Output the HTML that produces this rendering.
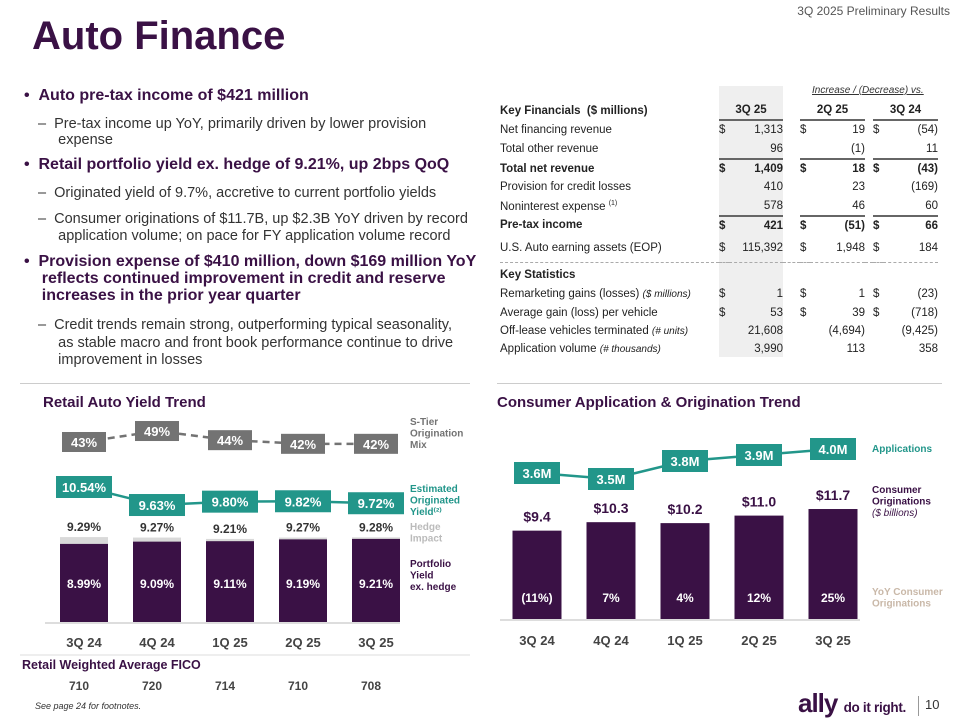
<!DOCTYPE html>
<html><head><meta charset="utf-8">
<style>
body{margin:0;width:960px;height:720px;background:#fff;position:relative;overflow:hidden;font-family:"Liberation Sans",sans-serif;color:#222}
.a{position:absolute;white-space:nowrap}
.b{font-weight:bold;color:#3a1145;font-size:16px}
.s{font-size:14.5px;color:#333}
.t td{font-size:11.5px;padding:0;height:18.3px;color:#222}
</style></head><body>
<div class="a" style="right:10px;top:4px;font-size:12px;color:#555">3Q 2025 Preliminary Results</div>
<div class="a" style="left:32px;top:14px;font-size:40px;font-weight:bold;color:#3a1145">Auto Finance</div>

<div>
<div class="a b" style="left:24px;top:87px">•&nbsp;&nbsp;Auto pre-tax income of $421 million</div>
<div class="a s" style="left:38px;top:116px">–&nbsp;&nbsp;Pre-tax income up YoY, primarily driven by lower provision<br>&nbsp;&nbsp;&nbsp;&nbsp;&nbsp;expense</div>
<div class="a b" style="left:24px;top:156px">•&nbsp;&nbsp;Retail portfolio yield ex. hedge of 9.21%, up 2bps QoQ</div>
<div class="a s" style="left:38px;top:185px">–&nbsp;&nbsp;Originated yield of 9.7%, accretive to current portfolio yields</div>
<div class="a s" style="left:38px;top:211px;line-height:17px">–&nbsp;&nbsp;Consumer originations of $11.7B, up $2.3B YoY driven by record<br>&nbsp;&nbsp;&nbsp;&nbsp;&nbsp;application volume; on pace for FY application volume record</div>
<div class="a b" style="left:24px;top:253px;line-height:17px">•&nbsp;&nbsp;Provision expense of $410 million, down $169 million YoY<br>&nbsp;&nbsp;&nbsp;&nbsp;reflects continued improvement in credit and reserve<br>&nbsp;&nbsp;&nbsp;&nbsp;increases in the prior year quarter</div>
<div class="a s" style="left:38px;top:317px;line-height:17.5px">–&nbsp;&nbsp;Credit trends remain strong, outperforming typical seasonality,<br>&nbsp;&nbsp;&nbsp;&nbsp;&nbsp;as stable macro and front book performance continue to drive<br>&nbsp;&nbsp;&nbsp;&nbsp;&nbsp;improvement in losses</div>
</div>

<div class="a" style="left:719px;top:86px;width:64px;height:271px;background:#efefef"></div>
<div class="a" style="left:812px;top:85px;font-size:10px;font-style:italic;text-decoration:underline;color:#333">Increase / (Decrease) vs.</div>
<table class="a t" style="left:500px;top:101px;border-collapse:collapse">
<colgroup><col style="width:219px"><col style="width:10px"><col style="width:54px"><col style="width:17px"><col style="width:10px"><col style="width:55px"><col style="width:8px"><col style="width:10px"><col style="width:55px"></colgroup>
<tr style="font-weight:bold"><td><b>Key Financials &nbsp;($ millions)</b></td><td colspan="2" style="text-align:center"><b>3Q 25</b></td><td></td><td colspan="2" style="text-align:center"><b>2Q 25</b></td><td></td><td colspan="2" style="text-align:center"><b>3Q 24</b></td></tr>
<tr><td>Net financing revenue</td><td style="border-top:2px solid #666">$</td><td style="text-align:right;border-top:2px solid #666">1,313</td><td></td><td style="border-top:2px solid #666">$</td><td style="text-align:right;border-top:2px solid #666">19</td><td></td><td style="border-top:2px solid #666">$</td><td style="text-align:right;border-top:2px solid #666">(54)</td></tr>
<tr><td>Total other revenue</td><td></td><td style="text-align:right">96</td><td></td><td></td><td style="text-align:right">(1)</td><td></td><td></td><td style="text-align:right">11</td></tr>
<tr style="font-weight:bold"><td>Total net revenue</td><td style="border-top:2px solid #666">$</td><td style="text-align:right;border-top:2px solid #666">1,409</td><td></td><td style="border-top:2px solid #666">$</td><td style="text-align:right;border-top:2px solid #666">18</td><td></td><td style="border-top:2px solid #666">$</td><td style="text-align:right;border-top:2px solid #666">(43)</td></tr>
<tr><td>Provision for credit losses</td><td></td><td style="text-align:right">410</td><td></td><td></td><td style="text-align:right">23</td><td></td><td></td><td style="text-align:right">(169)</td></tr>
<tr><td>Noninterest expense <sup style="font-size:7px">(1)</sup></td><td></td><td style="text-align:right">578</td><td></td><td></td><td style="text-align:right">46</td><td></td><td></td><td style="text-align:right">60</td></tr>
<tr style="font-weight:bold"><td>Pre-tax income</td><td style="border-top:2px solid #666">$</td><td style="text-align:right;border-top:2px solid #666">421</td><td></td><td style="border-top:2px solid #666">$</td><td style="text-align:right;border-top:2px solid #666">(51)</td><td></td><td style="border-top:2px solid #666">$</td><td style="text-align:right;border-top:2px solid #666">66</td></tr>
<tr><td style="height:26px">U.S. Auto earning assets (EOP)</td><td>$</td><td style="text-align:right">115,392</td><td></td><td>$</td><td style="text-align:right">1,948</td><td></td><td>$</td><td style="text-align:right">184</td></tr>
<tr><td colspan="9" style="height:1px;border-bottom:1px dashed #aaa"></td></tr>
<tr><td colspan="9" style="font-weight:bold;height:20px;padding-top:2px">Key Statistics</td></tr>
<tr><td>Remarketing gains (losses) <i style="font-size:10px">($ millions)</i></td><td>$</td><td style="text-align:right">1</td><td></td><td>$</td><td style="text-align:right">1</td><td></td><td>$</td><td style="text-align:right">(23)</td></tr>
<tr><td>Average gain (loss) per vehicle</td><td>$</td><td style="text-align:right">53</td><td></td><td>$</td><td style="text-align:right">39</td><td></td><td>$</td><td style="text-align:right">(718)</td></tr>
<tr><td>Off-lease vehicles terminated <i style="font-size:10px">(# units)</i></td><td></td><td style="text-align:right">21,608</td><td></td><td></td><td style="text-align:right">(4,694)</td><td></td><td></td><td style="text-align:right">(9,425)</td></tr>
<tr><td>Application volume <i style="font-size:10px">(# thousands)</i></td><td></td><td style="text-align:right">3,990</td><td></td><td></td><td style="text-align:right">113</td><td></td><td></td><td style="text-align:right">358</td></tr>
</table>

<div class="a" style="left:20px;top:383px;width:450px;height:1px;background:#ccc"></div>
<div class="a" style="left:497px;top:383px;width:445px;height:1px;background:#ccc"></div>

<svg class="a" id="c1" style="left:0;top:385px" width="480" height="320"></svg>
<svg class="a" id="c2" style="left:480px;top:385px" width="480" height="280"></svg>

<div class="a" style="left:35px;top:701px;font-size:9px;font-style:italic;color:#333">See page 24 for footnotes.</div>
<div class="a" style="left:798px;top:688px;font-size:26px;font-weight:bold;color:#3a1145;letter-spacing:-1px">ally <span style="font-size:13.5px;letter-spacing:-0.3px">do it right.</span></div>
<div class="a" style="left:918px;top:696px;width:1px;height:20px;background:#999"></div>
<div class="a" style="left:925px;top:697px;font-size:13px;color:#333">10</div>

<script>
const cats=["3Q 24","4Q 24","1Q 25","2Q 25","3Q 25"];
const portYield=[8.99,9.09,9.11,9.19,9.21];
const totalYield=[9.29,9.27,9.21,9.27,9.28];
const origYield=[10.54,9.63,9.80,9.82,9.72];
const sTier=[43,49,44,42,42];
const fico=[710,720,714,710,708];
const originations=[9.4,10.3,10.2,11.0,11.7];
const apps=[3.6,3.5,3.8,3.9,4.0];
const yoy=["(11%)","7%","4%","12%","25%"];

const NS="http://www.w3.org/2000/svg";
function mk(svg,tag,attrs,text){const e=document.createElementNS(NS,tag);for(const k in attrs)e.setAttribute(k,attrs[k]);if(text!==undefined)e.textContent=text;svg.appendChild(e);return e;}
const PURPLE="#3a1145",TEAL="#22968a",GRAY="#737373";

const s1=document.getElementById('c1');
const x1=i=>84+i*73, base1=622-385;
const yB=v=>base1-(v-5.55)*22.7;
const yO=v=>487-385+(10.54-v)*19.8;
const yS=v=>442-385-(v-43)*1.83;
let e=mk(s1,'text',{x:43,y:22,'font-size':15,'font-weight':'bold',fill:PURPLE},'Retail Auto Yield Trend');

e=mk(s1,'line',{x1:45,x2:400,y1:base1+1,y2:base1+1,stroke:'#ddd','stroke-width':2});

cats.forEach((c,i)=>{
 e=mk(s1,'rect',{x:x1(i)-24,y:yB(totalYield[i]),width:48,height:base1-yB(totalYield[i]),fill:'#d9d9d9'});
 
 e=mk(s1,'rect',{x:x1(i)-24,y:yB(portYield[i]),width:48,height:base1-yB(portYield[i]),fill:PURPLE});
 
 e=mk(s1,'text',{x:x1(i),y:base1-34,'text-anchor':'middle','font-size':12,'font-weight':'bold',fill:'#fff'},portYield[i].toFixed(2)+'%');
 
 e=mk(s1,'text',{x:x1(i),y:yB(totalYield[i])-6,'text-anchor':'middle','font-size':12,'font-weight':'bold',fill:'#333'},totalYield[i].toFixed(2)+'%');
 
 e=mk(s1,'text',{x:x1(i),y:262,'text-anchor':'middle','font-size':13,'font-weight':'bold',fill:'#444'},c);
 
 e=mk(s1,'text',{x:x1(i)-5,y:305,'text-anchor':'middle','font-size':12,'font-weight':'bold',fill:'#444'},fico[i]);
 
});
e=mk(s1,'polyline',{points:sTier.map((v,i)=>x1(i)+','+yS(v)).join(' '),fill:'none',stroke:GRAY,'stroke-width':2.5,'stroke-dasharray':'7,5'});

e=mk(s1,'polyline',{points:origYield.map((v,i)=>x1(i)+','+yO(v)).join(' '),fill:'none',stroke:TEAL,'stroke-width':2.5});

cats.forEach((c,i)=>{
 e=mk(s1,'rect',{x:x1(i)-22,y:yS(sTier[i])-10,width:44,height:20,fill:GRAY});
 
 e=mk(s1,'text',{x:x1(i),y:yS(sTier[i])+5,'text-anchor':'middle','font-size':13,'font-weight':'bold',fill:'#fff'},sTier[i]+'%');
 
 e=mk(s1,'rect',{x:x1(i)-28,y:yO(origYield[i])-11,width:56,height:22,fill:TEAL});
 
 e=mk(s1,'text',{x:x1(i),y:yO(origYield[i])+5,'text-anchor':'middle','font-size':13,'font-weight':'bold',fill:'#fff'},origYield[i].toFixed(2)+'%');
 
});
[[['S-Tier','Origination','Mix'],40,GRAY,'legend-s-tier'],[['Estimated','Originated','Yield⁽²⁾'],107,TEAL,'legend-originated-yield'],[['Hedge','Impact'],145,'#bbb','legend-hedge'],[['Portfolio','Yield','ex. hedge'],182,PURPLE,'legend-portfolio-yield']].forEach(([ls,y,col,n])=>{
 ls.forEach((l,j)=>{e=mk(s1,'text',{x:410,y:y+j*11.5,'font-size':10,'font-weight':'bold',fill:col},l);
 });
});
e=mk(s1,'line',{x1:20,x2:470,y1:270,y2:270,stroke:'#ddd'});
e=mk(s1,'text',{x:22,y:284,'font-size':12.5,'font-weight':'bold',fill:PURPLE},'Retail Weighted Average FICO');


const s2=document.getElementById('c2');
const x2=i=>537-480+i*74, base2=619-385;
const yV=v=>base2-v*9.4;
const yA=v=>479-385-(v-3.5)*60;
e=mk(s2,'text',{x:17,y:22,'font-size':15,'font-weight':'bold',fill:PURPLE},'Consumer Application & Origination Trend');

e=mk(s2,'line',{x1:20,x2:380,y1:base2+1,y2:base2+1,stroke:'#ddd','stroke-width':2});
cats.forEach((c,i)=>{
 e=mk(s2,'rect',{x:x2(i)-24.5,y:yV(originations[i]),width:49,height:base2-yV(originations[i]),fill:PURPLE});
 
 e=mk(s2,'text',{x:x2(i),y:yV(originations[i])-9,'text-anchor':'middle','font-size':14,'font-weight':'bold',fill:PURPLE},'$'+originations[i].toFixed(1));
 
 e=mk(s2,'text',{x:x2(i),y:base2-17,'text-anchor':'middle','font-size':12,'font-weight':'bold',fill:'#fff'},yoy[i]);
 
 e=mk(s2,'text',{x:x2(i),y:260,'text-anchor':'middle','font-size':13,'font-weight':'bold',fill:'#444'},c);
 
});
e=mk(s2,'polyline',{points:apps.map((v,i)=>x2(i)+','+yA(v)).join(' '),fill:'none',stroke:TEAL,'stroke-width':2.5});

cats.forEach((c,i)=>{
 e=mk(s2,'rect',{x:x2(i)-23,y:yA(apps[i])-11,width:46,height:22,fill:TEAL});
 
 e=mk(s2,'text',{x:x2(i),y:yA(apps[i])+5,'text-anchor':'middle','font-size':13,'font-weight':'bold',fill:'#fff'},apps[i].toFixed(1)+'M');
 
});
[[['Applications'],67,TEAL,'legend-applications'],[['Consumer','Originations'],108,PURPLE,'legend-originations'],[['YoY Consumer','Originations'],210,'#c9b8a8','legend-yoy']].forEach(([ls,y,col,n])=>{
 ls.forEach((l,j)=>{e=mk(s2,'text',{x:392,y:y+j*11.5,'font-size':10,'font-weight':'bold',fill:col},l);
 });
});
e=mk(s2,'text',{x:392,y:131,'font-size':10,'font-style':'italic',fill:PURPLE},'($ billions)');

</script>
</body></html>
